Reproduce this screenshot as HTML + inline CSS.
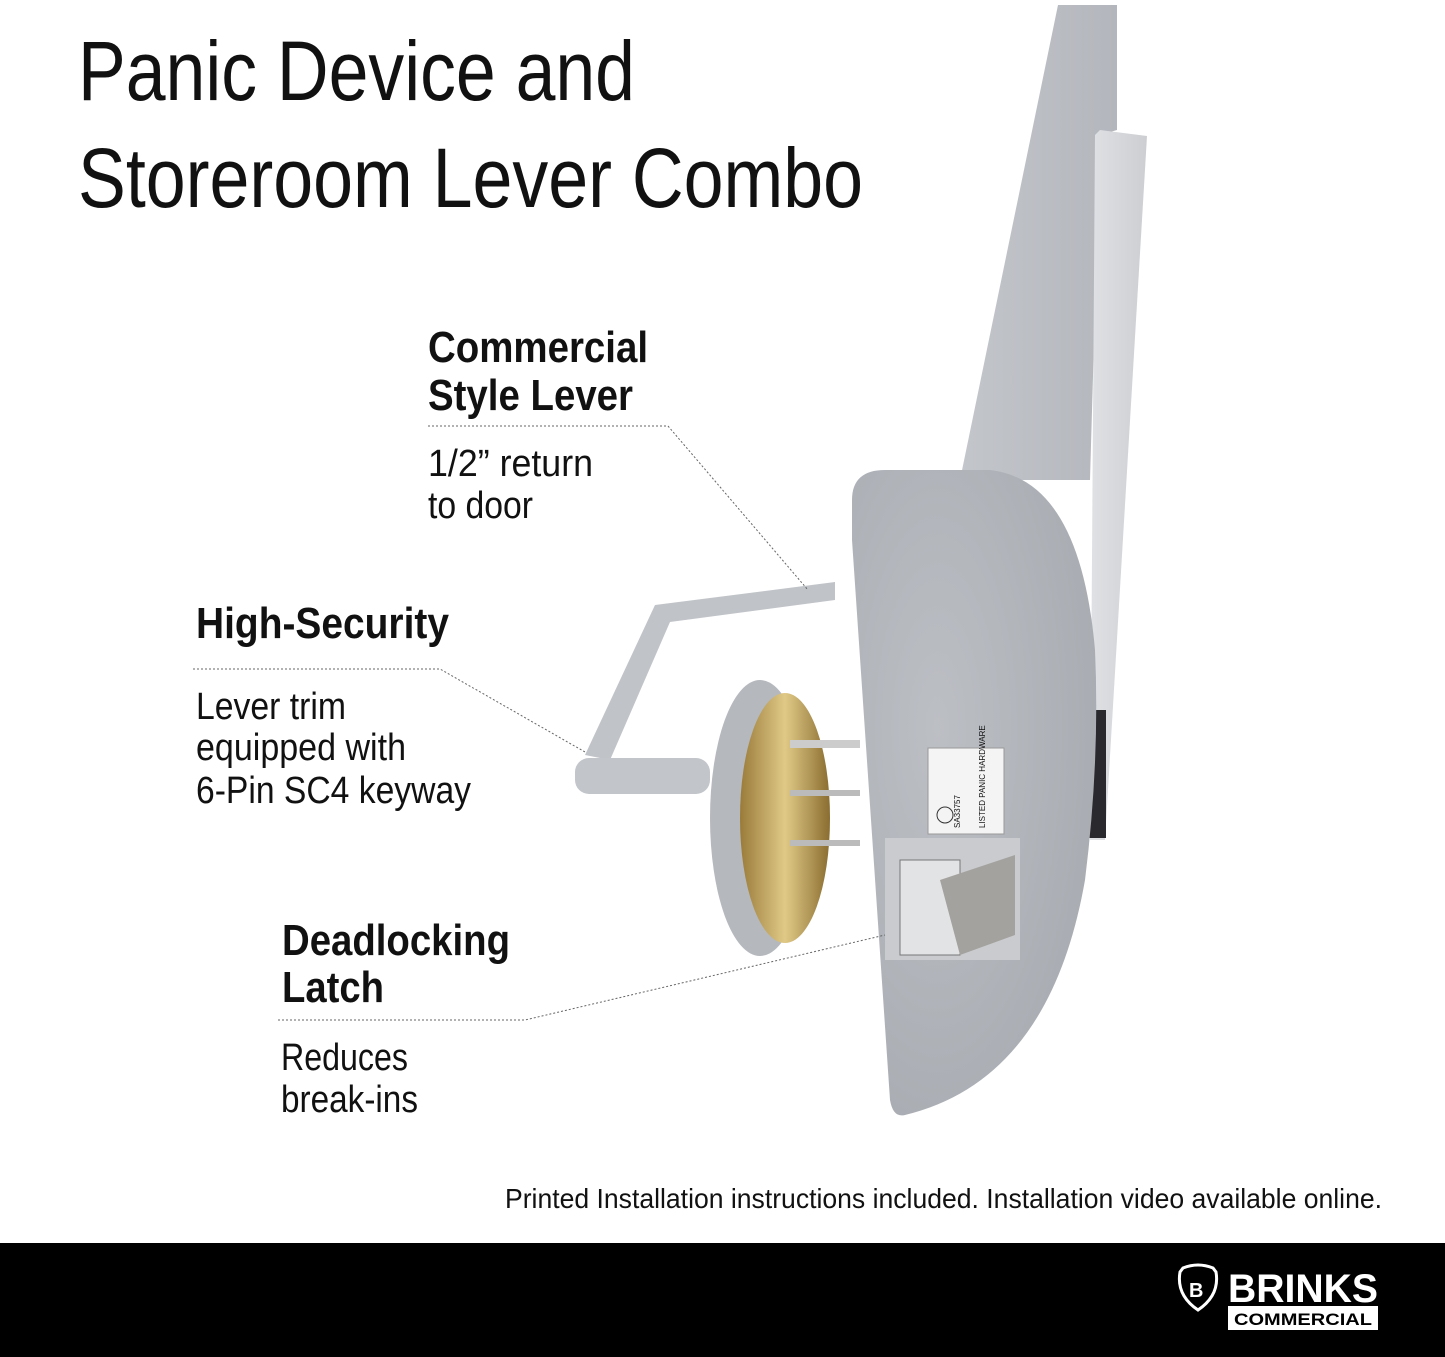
<!DOCTYPE html>
<html><head><meta charset="utf-8"><style>
html,body{margin:0;padding:0;background:#fff;}
svg{display:block}
text{font-family:"Liberation Sans",sans-serif;fill:#111}
.b{font-weight:bold}
</style></head><body>
<svg width="1445" height="1357" viewBox="0 0 1445 1357" xmlns="http://www.w3.org/2000/svg">
<defs>
<linearGradient id="bar" x1="0" x2="1" y1="0" y2="0">
<stop offset="0" stop-color="#c3c6cb"/><stop offset="1" stop-color="#b3b6bc"/></linearGradient>
<linearGradient id="bar2" x1="0" x2="1"><stop offset="0" stop-color="#dfe1e4"/><stop offset="1" stop-color="#ccced2"/></linearGradient>
<radialGradient id="hous" cx="0.35" cy="0.4" r="0.8"><stop offset="0" stop-color="#bcbfc4"/><stop offset="1" stop-color="#a5a9af"/></radialGradient>
<linearGradient id="brass" x1="0" x2="1"><stop offset="0" stop-color="#9a7b3a"/><stop offset="0.5" stop-color="#e0c987"/><stop offset="1" stop-color="#8a6d30"/></linearGradient>
</defs>
<!-- bars -->
<polygon points="1058,5 1117,5 1117,130 1100,135 1090,480 960,480" fill="url(#bar)"/>
<polygon points="1100,130 1147,136 1105,840 1090,840 1095,135" fill="url(#bar2)"/>
<rect x="1088" y="710" width="18" height="128" fill="#2a2a2e"/>
<!-- housing -->
<path d="M852,500 Q852,470 885,470 L990,470 Q1080,480 1095,650 Q1100,760 1085,880 Q1050,1080 905,1115 Q893,1118 890,1100 L852,540 Z" fill="url(#hous)"/>
<!-- label -->
<rect x="928" y="748" width="76" height="86" fill="#f4f4f4" stroke="#999"/>
<text x="0" y="0" font-size="8" transform="translate(985,828) rotate(-90)">LISTED PANIC HARDWARE</text>
<text x="0" y="0" font-size="8" transform="translate(960,828) rotate(-90)">SA33757</text>
<circle cx="945" cy="815" r="8" fill="none" stroke="#333"/>
<!-- latch opening -->
<rect x="885" y="838" width="135" height="122" fill="#c9cbce"/>
<polygon points="900,860 960,860 960,955 900,955" fill="#e2e3e4" stroke="#777"/>
<polygon points="940,880 1015,855 1015,935 960,955" fill="#a4a29e"/>
<!-- lever -->
<path d="M585,755 L655,605 L835,582 L835,600 L670,622 L610,760 Z" fill="#c0c3c8"/>
<rect x="575" y="758" width="135" height="36" rx="14" fill="#c2c5ca"/>
<ellipse cx="760" cy="818" rx="50" ry="138" fill="#b5b8bd"/>
<ellipse cx="785" cy="818" rx="45" ry="125" fill="url(#brass)"/>
<rect x="790" y="740" width="70" height="8" fill="#ccc"/>
<rect x="790" y="790" width="70" height="6" fill="#bbb"/>
<rect x="790" y="840" width="70" height="6" fill="#bbb"/>
<!-- title -->
<text x="78" y="100" font-size="84" textLength="557" lengthAdjust="spacingAndGlyphs">Panic Device and</text>
<text x="78" y="207" font-size="84" textLength="785" lengthAdjust="spacingAndGlyphs">Storeroom Lever Combo</text>
<!-- callouts -->
<text class="b" x="428" y="362" font-size="44" textLength="220" lengthAdjust="spacingAndGlyphs">Commercial</text>
<text class="b" x="428" y="410" font-size="44" textLength="205" lengthAdjust="spacingAndGlyphs">Style Lever</text>
<polyline points="428,426 668,426 808,590" fill="none" stroke="#666" stroke-width="1" stroke-dasharray="2,2"/>
<text x="428" y="476" font-size="38" textLength="165" lengthAdjust="spacingAndGlyphs">1/2” return</text>
<text x="428" y="518" font-size="38" textLength="105" lengthAdjust="spacingAndGlyphs">to door</text>

<text class="b" x="196" y="638" font-size="44" textLength="253" lengthAdjust="spacingAndGlyphs">High-Security</text>
<polyline points="193,669 440,669 585,752" fill="none" stroke="#666" stroke-width="1" stroke-dasharray="2,2"/>
<text x="196" y="719" font-size="38" textLength="150" lengthAdjust="spacingAndGlyphs">Lever trim</text>
<text x="196" y="760" font-size="38" textLength="210" lengthAdjust="spacingAndGlyphs">equipped with</text>
<text x="196" y="803" font-size="38" textLength="275" lengthAdjust="spacingAndGlyphs">6-Pin SC4 keyway</text>

<text class="b" x="282" y="955" font-size="44" textLength="228" lengthAdjust="spacingAndGlyphs">Deadlocking</text>
<text class="b" x="282" y="1002" font-size="44" textLength="102" lengthAdjust="spacingAndGlyphs">Latch</text>
<polyline points="278,1020 525,1020 885,935" fill="none" stroke="#666" stroke-width="1" stroke-dasharray="2,2"/>
<text x="281" y="1070" font-size="38" textLength="127" lengthAdjust="spacingAndGlyphs">Reduces</text>
<text x="281" y="1112" font-size="38" textLength="137" lengthAdjust="spacingAndGlyphs">break-ins</text>

<text x="505" y="1208" font-size="28" textLength="877" lengthAdjust="spacingAndGlyphs">Printed Installation instructions included. Installation video available online.</text>
<!-- footer -->
<rect x="0" y="1243" width="1445" height="114" fill="#000"/>
<path d="M1183,1268 Q1198,1262 1213,1268 L1216,1272 Q1220,1295 1198,1310 Q1176,1295 1180,1272 Z" fill="none" stroke="#fff" stroke-width="3"/>
<text x="1189" y="1297" font-size="20" class="b" style="fill:#fff">B</text>
<text x="1228" y="1302" font-size="40" class="b" style="fill:#fff" textLength="150" lengthAdjust="spacingAndGlyphs">BRINKS</text>
<rect x="1228" y="1306" width="150" height="24" fill="#fff"/>
<text x="1234" y="1325" font-size="17" class="b" style="fill:#000" textLength="138" lengthAdjust="spacingAndGlyphs">COMMERCIAL</text>
</svg>
</body></html>
